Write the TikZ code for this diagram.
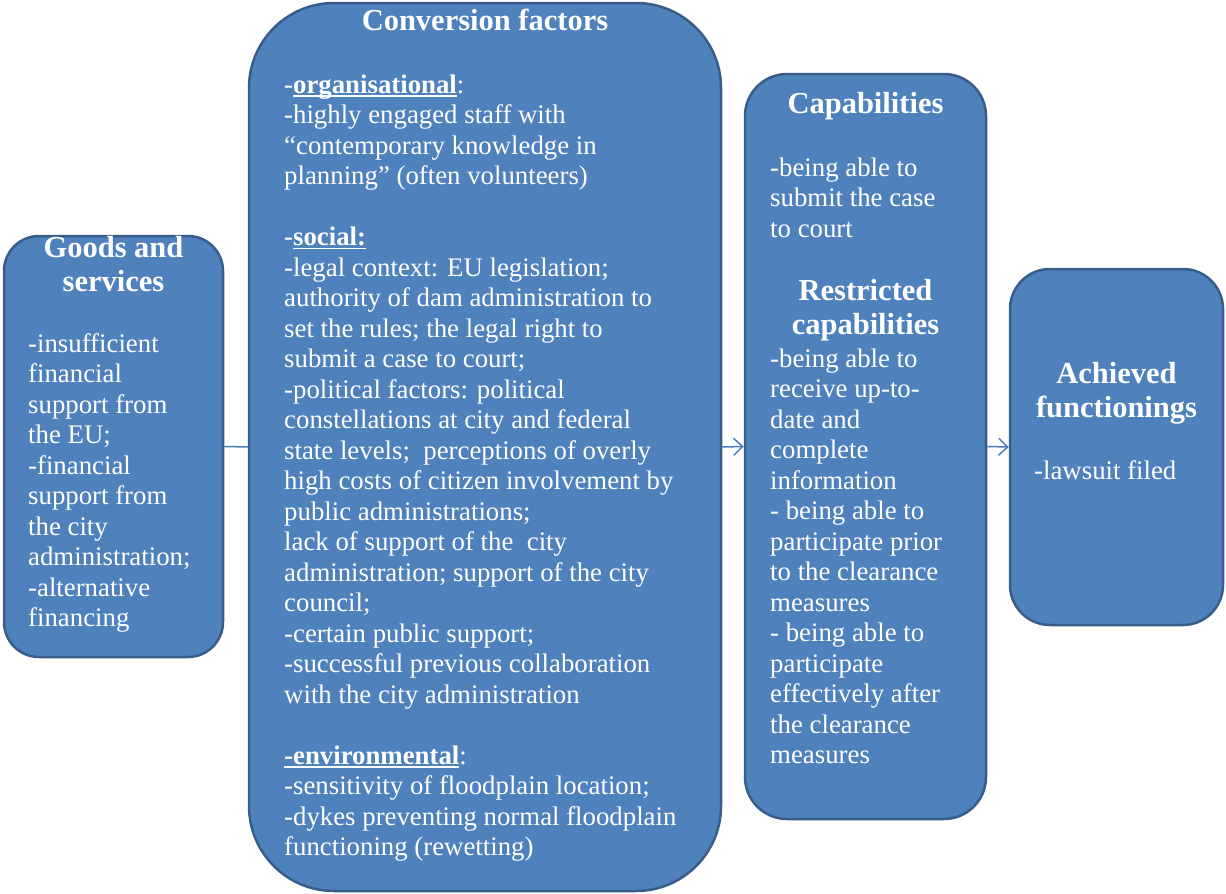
\documentclass[tikz,border=0pt]{standalone}
\usepackage{fontspec}
\setmainfont{Liberation Serif}
\usetikzlibrary{arrows.meta}

\definecolor{boxblue}{HTML}{4F81BD}
\definecolor{boxedge}{HTML}{385D8A}
\definecolor{linkblue}{HTML}{4A7EBB}

% underline that sits just under the baseline
\newcommand{\ulword}[1]{\setbox0\hbox{#1}\rlap{\rule[-3.5pt]{\wd0}{1.6pt}}\box0}

\tikzset{
  box/.style={draw=boxedge, fill=boxblue, line width=2.5pt},
  body/.style={text=white, inner sep=0pt, align=left, anchor=north west,
    font=\fontsize{26.8}{30.5}\selectfont},
  head/.style={text=white, inner sep=0pt, align=center, anchor=north,
    font=\fontsize{30.5}{34}\selectfont\bfseries},
  link/.style={draw=linkblue, line width=1.5pt}
}

\begin{document}
\begin{tikzpicture}[x=1pt, y=-1pt]
  \useasboundingbox (0,0) rectangle (1226,894);

  % boxes
  \node[box, rounded corners=35pt, minimum width=219, minimum height=421] (goods) at (113.5,446.5) {};
  \node[box, rounded corners=85pt, minimum width=472, minimum height=888] (conv) at (485,447) {};
  \node[box, rounded corners=42pt, minimum width=241, minimum height=745] (capab) at (865.5,446.5) {};
  \node[box, rounded corners=40pt, minimum width=213, minimum height=356] (achvd) at (1116.5,447) {};

  % goods and services
  \node[head] (goodsHead) at (113.5,233.5) {\strut Goods and\\services};
  \node[body] (goodsBody) at (28,330.65) {\strut -insufficient\\financial\\support from\\the EU;\\-financial\\support from\\the city\\administration;\\-alternative\\financing};

  % conversion factors
  \node[head] (convHead) at (485,6.5) {\strut Conversion factors};
  \node[body] (convBody) at (284,71.65) {\strut -\ulword{\bfseries organisational}:\\
    -highly engaged staff with\\
    “contemporary knowledge in\\
    planning” (often volunteers)\\[30.5pt]
    -\ulword{\bfseries social:}\\
    -legal context: EU legislation;\\
    authority of dam administration to\\
    set the rules; the legal right to\\
    submit a case to court;\\
    -political factors: political\\
    constellations at city and federal\\
    state levels;\ \ perceptions of overly\\
    high costs of citizen involvement by\\
    public administrations;\\
    lack of support of the\ \ city\\
    administration; support of the city\\
    council;\\
    -certain public support;\\
    -successful previous collaboration\\
    with the city administration\\[30.5pt]
    \ulword{\bfseries -environmental}:\\
    -sensitivity of floodplain location;\\
    -dykes preventing normal floodplain\\
    functioning (rewetting)};

  % capabilities
  \node[head] (capabHead) at (865.5,89.5) {\strut Capabilities};
  \node[body] (capabBody) at (770,154.65) {\strut -being able to\\submit the case\\to court};
  \node[head] (restrHead) at (865.5,276.5) {\strut Restricted\\capabilities};
  \node[body] (restrBody) at (770,345.65) {\strut -being able to\\receive up-to-\\date and\\complete\\information\\
    - being able to\\participate prior\\to the clearance\\measures\\
    - being able to\\participate\\effectively after\\the clearance\\measures};

  % achieved functionings
  \node[head] (achvdHead) at (1116.5,359.5) {\strut Achieved\\functionings};
  \node[body] (achvdBody) at (1034,457.65) {\strut -lawsuit filed};

  % connectors
  \draw[link] (goods.east) -- (conv.west);
  \draw[link, -{Straight Barb[length=9pt, width=17pt]}] (conv.east) -- (capab.west);
  \draw[link, -{Straight Barb[length=9pt, width=17pt]}] (capab.east) -- (achvd.west);
\end{tikzpicture}
\end{document}
